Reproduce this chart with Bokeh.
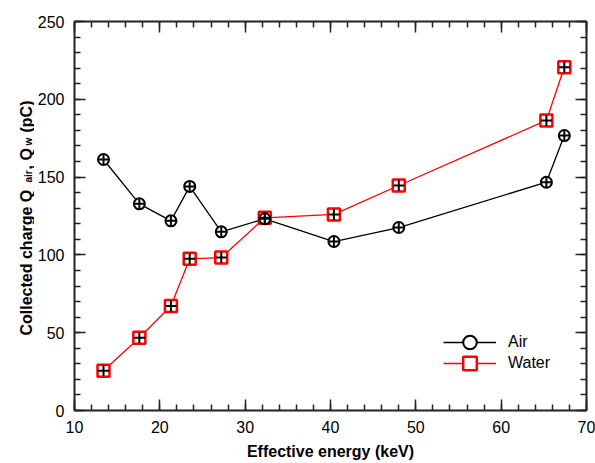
from bokeh.plotting import figure
from bokeh.layouts import row
from bokeh.models import (Range1d, LinearAxis, Label, Legend, LegendItem,
                          SingleIntervalTicker, ColumnDataSource,
                          CustomLabelingPolicy, CustomJSTickFormatter)
from bokeh.embed import file_html
from bokeh.resources import INLINE
import math

# ---- data ----
energy_kev = [13.4, 17.6, 21.3, 23.5, 27.2, 32.3, 40.4, 48.0, 65.3, 67.4]
q_air = [161.3, 132.8, 121.9, 144.0, 114.8, 123.2, 108.6, 117.6, 146.7, 176.7]
q_water = [25.5, 46.8, 67.2, 97.5, 98.3, 123.8, 126.0, 144.6, 186.4, 220.6]
x_label = "Effective energy (keV)"
y_label_parts = ["Collected charge Q", "air", ", Q", "w", "(pC)"]

FONT = "Liberation Sans"
AX = "#222222"
LEFT_W = 34
TOTAL_W, TOTAL_H = 595, 463
FRAME_BOTTOM = 410  # page y of the plot frame's bottom edge

src = ColumnDataSource(dict(x=energy_kev, air=q_air, water=q_water))

p = figure(width=TOTAL_W - LEFT_W, height=TOTAL_H, output_backend="svg",
           toolbar_location=None, title=None,
           x_range=Range1d(10, 70), y_range=Range1d(0, 250),
           min_border_left=73 - LEFT_W, min_border_right=9, min_border_top=21,
           min_border_bottom=TOTAL_H - FRAME_BOTTOM,
           x_axis_location=None, y_axis_location=None)
p.outline_line_color = None
p.xgrid.visible = False
p.ygrid.visible = False
p.background_fill_color = "white"
p.border_fill_color = "white"


def style_axis(ax, show_labels, ticker):
    ax.ticker = ticker
    ax.axis_line_color = AX
    ax.axis_line_width = 2
    ax.major_tick_line_color = AX
    ax.minor_tick_line_color = AX
    ax.major_tick_line_width = 1.5
    ax.minor_tick_line_width = 1.5
    ax.major_tick_in = 11
    ax.major_tick_out = 0
    ax.minor_tick_in = 6
    ax.minor_tick_out = 0
    ax.major_label_text_font = FONT
    ax.major_label_text_font_size = "16px"
    ax.major_label_text_color = "black"
    if show_labels:
        ax.major_label_standoff = 10
    else:
        ax.major_label_standoff = 0
        ax.formatter = CustomJSTickFormatter(code="return ''")
        ax.major_label_policy = CustomLabelingPolicy(
            code="for (const i of indices) indices.unset(i)")


def xt():
    return SingleIntervalTicker(interval=10, num_minor_ticks=5)


def yt():
    return SingleIntervalTicker(interval=50, num_minor_ticks=5)


xb = LinearAxis(axis_label=x_label, axis_label_text_font=FONT,
                axis_label_text_font_size="16px",
                axis_label_text_font_style="bold",
                axis_label_text_color="black", axis_label_standoff=7)
style_axis(xb, True, xt())
p.add_layout(xb, "below")
xa = LinearAxis(); style_axis(xa, False, xt()); p.add_layout(xa, "above")
yl = LinearAxis(); style_axis(yl, True, yt()); p.add_layout(yl, "left")
yr = LinearAxis(); style_axis(yr, False, yt()); p.add_layout(yr, "right")

# ---- series ----
air_line = p.line("x", "air", source=src, line_color="black", line_width=1.3)
water_line = p.line("x", "water", source=src, line_color="#ff0000", line_width=1.3)
water_sq = p.scatter("x", "water", source=src, marker="square", size=12,
                     line_color="#ff0000", line_width=2.5, fill_color="white")
air_c = p.scatter("x", "air", source=src, marker="circle", size=11,
                  line_color="black", line_width=2, fill_color="white")
p.scatter("x", "air", source=src, marker="cross", size=11,
          line_color="black", line_width=2)
p.scatter("x", "water", source=src, marker="cross", size=11,
          line_color="black", line_width=2)


def make_legend(label, rends, y):
    return Legend(items=[LegendItem(label=label, renderers=rends)],
                  location=(369, y), glyph_width=53, glyph_height=34,
                  spacing=0, label_standoff=12, padding=0, margin=0,
                  border_line_color=None, background_fill_alpha=0,
                  label_text_font=FONT, label_text_font_size="16px",
                  label_text_color="black", label_height=16)


p.add_layout(make_legend("Air", [air_line, air_c], 51), "center")
p.add_layout(make_legend("Water", [water_line, water_sq], 30), "center")

# ---- left strip holding the y-axis title (with subscripts) ----
# its frame is aligned with the main frame by the row layout
left = figure(width=LEFT_W, height=TOTAL_H, output_backend="svg",
              toolbar_location=None, title=None, x_range=Range1d(0, LEFT_W),
              y_range=Range1d(0, TOTAL_H), min_border=0,
              x_axis_location=None, y_axis_location=None)
left.outline_line_color = None
left.xgrid.visible = False
left.ygrid.visible = False
left.background_fill_color = "white"
left.border_fill_color = "white"

ang = math.pi / 2
# (page y where each piece starts, baseline x, font size)
layout_parts = [(335, 26, "16px"),
                (182, 27.5, "10px"),
                (169, 26, "16px"),
                (145, 27.5, "10px"),
                (132, 26, "16px")]
for txt, (py, sx, fs) in zip(y_label_parts, layout_parts):
    left.add_layout(Label(x=sx, y=FRAME_BOTTOM - py, x_units="screen",
                          y_units="screen", text=txt, angle=ang,
                          text_align="left", text_baseline="alphabetic",
                          text_font=FONT, text_font_size=fs,
                          text_font_style="bold", text_color="black"))

lay = row(left, p, spacing=0)
open("out.html", "w").write(file_html(lay, INLINE))
